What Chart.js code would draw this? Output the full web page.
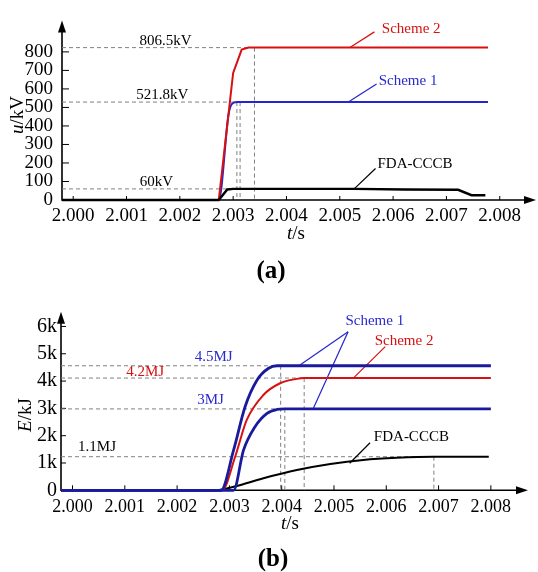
<!DOCTYPE html>
<html>
<head>
<meta charset="utf-8">
<script src="https://cdn.jsdelivr.net/npm/chart.js@4"></script>
<style>
  body { margin: 0; background: #fff; }
  canvas { position: absolute; left: 0; }
</style>
</head>
<body>
<canvas id="chartA" width="538" height="290" style="top:0"></canvas>
<canvas id="chartB" width="538" height="282" style="top:290px"></canvas>
<script>
// ---- shared axis ticks ----
const xTicks = [2.000, 2.001, 2.002, 2.003, 2.004, 2.005, 2.006, 2.007, 2.008];
const uTicks = [0, 100, 200, 300, 400, 500, 600, 700, 800];
const eTicks = [0, 1000, 2000, 3000, 4000, 5000, 6000];

// ---- (a) voltage, kV ----
const tS2a = [1.99979, 2.00273, 2.00300, 2.00316, 2.00329, 2.00778];
const uS2  = [0, 0, 686, 812, 823, 823];
const tS1a = [1.99979, 2.00273, 2.00291, 2.00295, 2.00301, 2.00308, 2.00778];
const uS1  = [0, 0, 455, 505, 526, 529, 529];
const tFa  = [1.99979, 2.00273, 2.00289, 2.00300, 2.00527, 2.00622, 2.00722, 2.00747, 2.00773];
const uF   = [0, 0, 57, 60, 60, 57, 55, 26, 26];

// ---- (b) energy, kJ ----
const tS1hi = [1.99978, 2.00284, 2.00308, 2.00330, 2.00353, 2.00375, 2.00391, 2.00398, 2.00800];
const eS1hi = [0, 0, 1470, 3060, 4040, 4470, 4560, 4560, 4560];
const tS1lo = [1.99978, 2.00308, 2.00327, 2.00349, 2.00372, 2.00391, 2.00406, 2.00800];
const eS1lo = [0, 0, 1470, 2330, 2820, 2960, 2980, 2980];
const tS2b  = [1.99978, 2.00286, 2.00311, 2.00333, 2.00365, 2.00397, 2.00429, 2.00443, 2.00800];
const eS2   = [0, 0, 1230, 2570, 3490, 3920, 4080, 4110, 4110];
const tFb   = [1.99978, 2.00270, 2.00308, 2.00365, 2.00429, 2.00493, 2.00556, 2.00620, 2.00690, 2.00796];
const eF    = [0, 0, 130, 440, 740, 960, 1110, 1190, 1230, 1230];

const RED = '#d81010', BLUE_A = '#2424d0', BLUE_B = '#1a1a9c', BLUE_T = '#2a2ad0', GREY = '#808080';
const SERIF = '"Liberation Serif", "Times New Roman", serif';

function pts(ts, vs) { return ts.map((t, i) => ({ x: t, y: vs[i] })); }
function curve(ts, vs, color, width, smooth) {
  return { data: pts(ts, vs), borderColor: color, borderWidth: width, pointRadius: 0,
           fill: false, clip: false, tension: 0,
           cubicInterpolationMode: smooth ? 'monotone' : 'default' };
}
function seg(p, color, width, dashed) {
  return { data: p.map(q => ({ x: q[0], y: q[1] })), borderColor: color, borderWidth: width,
           borderDash: dashed ? [4, 3] : [], pointRadius: 0, fill: false, clip: false };
}

// axes with arrows and inward ticks, drawn under the curves
const frame = {
  id: 'frame',
  beforeDatasetsDraw(chart, args, o) {
    const ctx = chart.ctx, a = chart.chartArea, xs = chart.scales.x, ys = chart.scales.y;
    ctx.save();
    ctx.strokeStyle = '#000';
    ctx.fillStyle = '#000';
    ctx.lineWidth = 1;
    ctx.beginPath();
    xTicks.forEach(v => { const p = xs.getPixelForValue(v); ctx.moveTo(p, a.bottom); ctx.lineTo(p, a.bottom - o.xTick); });
    o.yTicks.forEach(v => { if (v === 0) return; const p = ys.getPixelForValue(v); ctx.moveTo(a.left, p); ctx.lineTo(a.left + o.yTick, p); });
    ctx.stroke();
    ctx.lineWidth = 1.6;
    ctx.beginPath();
    ctx.moveTo(a.left, a.top + 8);
    ctx.lineTo(a.left, a.bottom);
    ctx.lineTo(a.right - 8, a.bottom);
    ctx.stroke();
    ctx.beginPath();
    ctx.moveTo(a.left, a.top); ctx.lineTo(a.left - 4, a.top + 12); ctx.lineTo(a.left + 4, a.top + 12);
    ctx.closePath(); ctx.fill();
    ctx.beginPath();
    ctx.moveTo(a.right, a.bottom); ctx.lineTo(a.right - 12, a.bottom - 4); ctx.lineTo(a.right - 12, a.bottom + 4);
    ctx.closePath(); ctx.fill();
    ctx.restore();
  }
};

function mixed(ctx, parts, x, y, size, rot) {
  ctx.save();
  ctx.translate(x, y);
  ctx.rotate(rot || 0);
  ctx.textBaseline = 'middle';
  ctx.textAlign = 'left';
  let w = 0;
  parts.forEach(p => { ctx.font = (p[1] ? 'italic ' : '') + size + 'px ' + SERIF; w += ctx.measureText(p[0]).width; });
  let cx = -w / 2;
  parts.forEach(p => {
    ctx.font = (p[1] ? 'italic ' : '') + size + 'px ' + SERIF;
    ctx.fillText(p[0], cx, 0);
    cx += ctx.measureText(p[0]).width;
  });
  ctx.restore();
}

const notes = {
  id: 'notes',
  afterDraw(chart, args, o) {
    const ctx = chart.ctx, xs = chart.scales.x, ys = chart.scales.y;
    ctx.save();
    ctx.textAlign = 'center';
    ctx.textBaseline = 'middle';
    ctx.font = '15px ' + SERIF;
    o.items.forEach(it => {
      ctx.fillStyle = it.color;
      ctx.fillText(it.text, xs.getPixelForValue(it.t), ys.getPixelForValue(it.v));
    });
    ctx.fillStyle = '#000';
    mixed(ctx, o.xTitle.parts, o.xTitle.x, o.xTitle.y, 19, 0);
    mixed(ctx, o.yTitle.parts, o.yTitle.x, o.yTitle.y, 19, -Math.PI / 2);
    ctx.font = 'bold 25px ' + SERIF;
    ctx.textAlign = 'center';
    ctx.fillText(o.tag.text, o.tag.x, o.tag.y);
    ctx.restore();
  }
};

function axisOpts(min, max, ticks, fmt, size, pad, fitKey, fitVal) {
  return {
    type: 'linear', min: min, max: max,
    grid: { display: false, drawTicks: false }, border: { display: false },
    afterBuildTicks: s => { s.ticks = ticks.map(v => ({ value: v })); },
    afterFit: s => { s[fitKey] = fitVal; },
    ticks: { autoSkip: false, maxRotation: 0, padding: pad, color: '#000',
             font: { family: SERIF, size: size }, callback: fmt }
  };
}

// ---------- chart (a) ----------
const xMinA = 1.99979, xMaxA = 2.00868;
new Chart(document.getElementById('chartA'), {
  type: 'line',
  data: {
    datasets: [
      curve(tFa, uF, '#000', 2.4, false),
      curve(tS2a, uS2, RED, 2, false),
      curve(tS1a, uS1, BLUE_A, 2, true),
      seg([[2.00565, 908], [2.00519, 823]], RED, 1.2, false),
      seg([[2.00569, 627], [2.00516, 529]], BLUE_A, 1.2, false),
      seg([[2.00567, 170], [2.00527, 60]], '#000', 1.2, false),
      seg([[xMinA, 823], [2.0034, 823]], GREY, 1, true),
      seg([[2.0034, 823], [2.0034, 0]], GREY, 1, true),
      seg([[xMinA, 529], [2.00313, 529]], GREY, 1, true),
      seg([[2.00307, 529], [2.00307, 0]], GREY, 1, true),
      seg([[2.00313, 529], [2.00313, 0]], GREY, 1, true),
      seg([[xMinA, 60], [2.003, 60]], GREY, 1, true)
    ]
  },
  options: {
    responsive: false, animation: false, events: [],
    layout: { padding: { left: 0, right: 2, top: 14, bottom: 0 } },
    scales: {
      x: axisOpts(xMinA, xMaxA, xTicks, v => v.toFixed(3), 19, 5, 'height', 90),
      y: axisOpts(0, 970, uTicks, v => String(v), 19, 9, 'width', 62)
    },
    plugins: {
      legend: { display: false }, tooltip: { enabled: false },
      frame: { xTick: 4, yTick: 7, yTicks: uTicks },
      notes: {
        items: [
          { text: '806.5kV', t: 2.00173, v: 856, color: '#000' },
          { text: '521.8kV', t: 2.00167, v: 566, color: '#000' },
          { text: '60kV', t: 2.00156, v: 97, color: '#000' },
          { text: 'Scheme 2', t: 2.00634, v: 925, color: RED },
          { text: 'Scheme 1', t: 2.00628, v: 641, color: BLUE_T },
          { text: 'FDA-CCCB', t: 2.00641, v: 193, color: '#000' }
        ],
        xTitle: { parts: [['t', true], ['/s', false]], x: 296, y: 234 },
        yTitle: { parts: [['u', true], ['/kV', false]], x: 18, y: 115 },
        tag: { text: '(a)', x: 271, y: 272 }
      }
    }
  },
  plugins: [frame, notes]
});

// ---------- chart (b) ----------
const xMinB = 1.99978, xMaxB = 2.00871;
new Chart(document.getElementById('chartB'), {
  type: 'line',
  data: {
    datasets: [
      curve(tS1hi, eS1hi, BLUE_B, 2.8, true),
      curve(tS1lo, eS1lo, BLUE_B, 2.8, true),
      curve(tS2b, eS2, RED, 2, true),
      curve(tFb, eF, '#000', 2, true),
      seg([[2.00527, 5810], [2.00435, 4590]], BLUE_A, 1.2, false),
      seg([[2.00527, 5810], [2.00460, 2980]], BLUE_A, 1.2, false),
      seg([[2.00598, 5260], [2.00537, 4110]], RED, 1.2, false),
      seg([[2.00569, 1740], [2.00530, 990]], '#000', 1.2, false),
      seg([[xMinB, 4560], [2.00398, 4560]], GREY, 1, true),
      seg([[2.00398, 4560], [2.00398, 0]], GREY, 1, true),
      seg([[xMinB, 4110], [2.00443, 4110]], GREY, 1, true),
      seg([[2.00443, 4110], [2.00443, 0]], GREY, 1, true),
      seg([[xMinB, 2980], [2.00406, 2980]], GREY, 1, true),
      seg([[2.00406, 2980], [2.00406, 0]], GREY, 1, true),
      seg([[xMinB, 1230], [2.00691, 1230]], GREY, 1, true),
      seg([[2.00691, 1230], [2.00691, 0]], GREY, 1, true)
    ]
  },
  options: {
    responsive: false, animation: false, events: [],
    layout: { padding: { left: 0, right: 10, top: 21.7, bottom: 0 } },
    scales: {
      x: axisOpts(xMinB, xMaxB, xTicks, v => v.toFixed(3), 18, 6, 'height', 81.7),
      y: axisOpts(0, 6540, eTicks, v => v === 0 ? '0' : (v / 1000) + 'k', 20, 4, 'width', 61)
    },
    plugins: {
      legend: { display: false }, tooltip: { enabled: false },
      frame: { xTick: 5, yTick: 5, yTicks: eTicks },
      notes: {
        items: [
          { text: '4.5MJ', t: 2.00270, v: 4890, color: BLUE_T },
          { text: '4.2MJ', t: 2.00139, v: 4340, color: RED },
          { text: '3MJ', t: 2.00264, v: 3310, color: BLUE_T },
          { text: '1.1MJ', t: 2.00047, v: 1600, color: '#000' },
          { text: 'Scheme 1', t: 2.00578, v: 6180, color: BLUE_T },
          { text: 'Scheme 2', t: 2.00634, v: 5480, color: RED },
          { text: 'FDA-CCCB', t: 2.00648, v: 1940, color: '#000' }
        ],
        xTitle: { parts: [['t', true], ['/s', false]], x: 290, y: 234 },
        yTitle: { parts: [['E', true], ['/kJ', false]], x: 26, y: 125 },
        tag: { text: '(b)', x: 273, y: 270 }
      }
    }
  },
  plugins: [frame, notes]
});
</script>
</body>
</html>
